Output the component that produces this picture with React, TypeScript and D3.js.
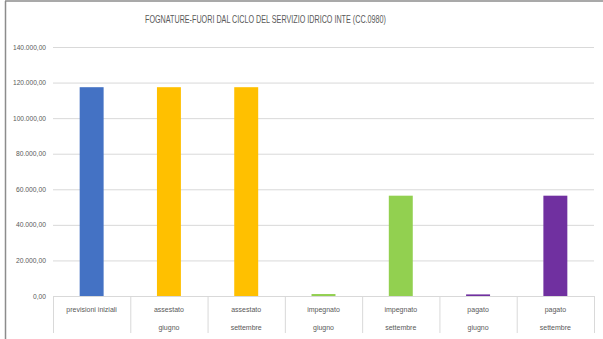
import React from "react";
import * as d3 from "d3";

const categories: string[][] = [
  ["previsioni iniziali"],
  ["assestato", "giugno"],
  ["assestato", "settembre"],
  ["impegnato", "giugno"],
  ["impegnato", "settembre"],
  ["pagato", "giugno"],
  ["pagato", "settembre"],
];
const values: number[] = [117400, 117400, 117400, 1100, 56400, 900, 56400];
const colors: string[] = ["#4472C4", "#FFC000", "#FFC000", "#92D050", "#92D050", "#7030A0", "#7030A0"];
const yTicks: number[] = [0, 20000, 40000, 60000, 80000, 100000, 120000, 140000];
const title = "FOGNATURE-FUORI DAL CICLO DEL SERVIZIO IDRICO INTE (CC.0980)";

const fmt = (v: number) => {
  const s = d3.format(",.2f")(v);
  return s.replace(/,/g, "#").replace(".", ",").replace(/#/g, ".");
};

export default function App() {
  const W = 603, H = 339;
  const left = 53, right = 594, top = 47, bottom = 296;
  const x = d3.scaleBand<number>().domain(d3.range(categories.length)).range([left, right]).paddingInner(0).paddingOuter(0);
  const y = d3.scaleLinear().domain([0, 140000]).range([bottom, top]);
  const bw = x.bandwidth() * 0.31;
  const font = "'Liberation Sans Narrow', 'Arial Narrow', 'Liberation Sans', sans-serif";
  return (
    <svg width={W} height={H} style={{ position: "absolute", left: 0, top: 0 }} fontFamily={font}>
      <rect x={0} y={0} width={W} height={H} fill="#fff" />
      <line x1={5.5} y1={1} x2={5.5} y2={H} stroke="#8c8c8c" strokeWidth={1.5} />
      <line x1={5} y1={1} x2={W} y2={1} stroke="#8c8c8c" strokeWidth={1.5} />
      <text x={265.5} y={23} textAnchor="middle" fontSize={10.5} fill="#595959" textLength={241} lengthAdjust="spacingAndGlyphs">{title}</text>
      {yTicks.map((t) => (
        <g key={t}>
          {t > 0 && <line x1={left} x2={right} y1={y(t) + 0.5} y2={y(t) + 0.5} stroke="#d9d9d9" strokeWidth={1} />}
          <text x={46} y={y(t) + 2.5} textAnchor="end" fontSize={7} fill="#595959" textLength={t === 0 ? 13 : t < 100000 ? 30 : 33} lengthAdjust="spacingAndGlyphs">{fmt(t)}</text>
        </g>
      ))}
      {values.map((v, i) => (
        <rect key={i} x={(x(i) as number) + (x.bandwidth() - bw) / 2} y={y(v)} width={bw} height={bottom - y(v)} fill={colors[i]} />
      ))}
      <line x1={left} x2={right} y1={bottom + 0.5} y2={bottom + 0.5} stroke="#d9d9d9" strokeWidth={1} />
      {d3.range(categories.length + 1).map((i) => {
        const xx = left + i * x.bandwidth();
        return <line key={i} x1={xx + 0.5} x2={xx + 0.5} y1={bottom} y2={333} stroke="#d9d9d9" strokeWidth={1} />;
      })}
      {categories.map((lines, i) => (
        <text key={i} textAnchor="middle" fontSize={7} fill="#595959">
          {lines.map((l, j) => (
            <tspan key={j} x={(x(i) as number) + x.bandwidth() / 2} y={312 + j * 18}>{l}</tspan>
          ))}
        </text>
      ))}
    </svg>
  );
}
